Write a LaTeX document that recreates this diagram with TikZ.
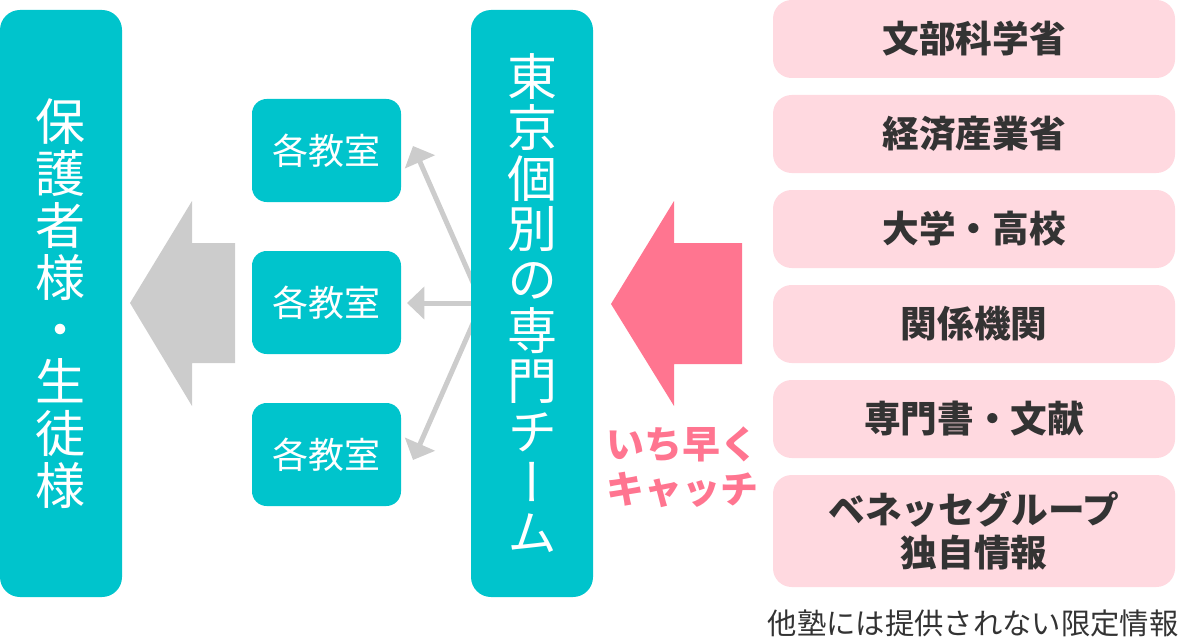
\documentclass[tikz,border=0pt]{standalone}
\usepackage{fontspec}
\usetikzlibrary{arrows.meta}
\newfontfamily\jp{Noto Sans CJK JP}
\newfontfamily\jpv[RawFeature=+vert]{Noto Sans CJK JP}
\definecolor{tealA}{HTML}{00C4CC}
\definecolor{grayA}{HTML}{CCCCCC}
\definecolor{pinkA}{HTML}{FF7590}
\definecolor{pinkL}{HTML}{FFD9E0}
\definecolor{darkT}{HTML}{333333}
\begin{document}
\begin{tikzpicture}[x=0.75pt,y=-0.75pt,
  tallbox/.style={fill=tealA, rounded corners=15pt, minimum width=91.5pt, minimum height=440.25pt, inner sep=0pt, text=white, align=center},
  roombox/.style={fill=tealA, rounded corners=11pt, minimum width=111.75pt, minimum height=77.25pt, inner sep=0pt, text=white, font=\jp\fontsize{27}{30}\selectfont},
  srcbox/.style={fill=pinkL, rounded corners=14pt, minimum width=301.5pt, minimum height=58.5pt, inner sep=0pt, text=darkT, align=center, font=\jp\bfseries\fontsize{27.5}{32}\selectfont},
  thinarrow/.style={draw=grayA, line width=3.75pt, -{Triangle[length=13pt,width=24pt,fill=grayA]}}
]
\useasboundingbox (0,0) rectangle (1180,638);

% left target box
\node[tallbox, font=\jpv\fontsize{37.5}{39}\selectfont] (parents) at (61,303.5) {保\\護\\者\\様\\・\\生\\徒\\様};

% big gray arrow
\fill[grayA] (130,303) -- (192,201) -- (192,243) -- (235,243) -- (235,363) -- (192,363) -- (192,406) -- cycle;

% classrooms
\node[roombox] (room1) at (326.5,150.5) {各教室};
\node[roombox] (room2) at (326.5,302.5) {各教室};
\node[roombox] (room3) at (326.5,454.5) {各教室};

% thin arrows from hub
\coordinate (hub) at (482,303);
\coordinate (t1) at (413,146);
\coordinate (t2) at (407,303);
\coordinate (t3) at (413,460);
\draw[thinarrow] (hub) -- (t1);
\draw[thinarrow] (hub) -- (t2);
\draw[thinarrow] (hub) -- (t3);

% team box
\node[tallbox, font=\jpv\fontsize{37.5}{38}\selectfont] (team) at (532,303.5) {東\\京\\個\\別\\の\\専\\門\\チ\\ー\\ム};

% pink arrow
\fill[pinkA] (611,304) -- (674,201) -- (674,243) -- (742,243) -- (742,364) -- (674,364) -- (674,406) -- cycle;
\node[text=pinkA, font=\jp\bfseries\fontsize{28.5}{34}\selectfont, align=center, inner sep=0pt] (catch) at (682,467) {いち早く\\キャッチ};

% sources
\node[srcbox] (s1) at (974,39) {文部科学省};
\node[srcbox] (s2) at (974,134) {経済産業省};
\node[srcbox] (s3) at (974,229) {大学・高校};
\node[srcbox] (s4) at (974,324) {関係機関};
\node[srcbox] (s5) at (974,419) {専門書・文献};
\node[srcbox, minimum height=84pt] (s6) at (974,531) {ベネッセグループ\\独自情報};

\node[text=darkT, font=\jp\fontsize{22}{26}\selectfont, inner sep=0pt] (note) at (973,623) {他塾には提供されない限定情報};
\end{tikzpicture}
\end{document}
